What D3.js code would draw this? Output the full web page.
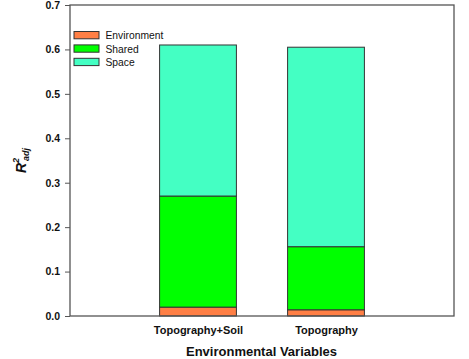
<!DOCTYPE html>
<html><head><meta charset="utf-8">
<script src="https://cdn.jsdelivr.net/npm/d3@7"></script>
<style>body{margin:0;background:#fff}svg{display:block}</style>
</head><body><svg id="c" width="469" height="359"></svg>
<script>
const categories = ["Topography+Soil", "Topography"];
const seriesNames = ["Environment", "Shared", "Space"];
const environment = [0.020, 0.014];
const shared = [0.250, 0.142];
const space = [0.340, 0.449];
const yTicks = [0.0, 0.1, 0.2, 0.3, 0.4, 0.5, 0.6, 0.7];
const colors = ["#ff7f45", "#00ff00", "#44ffc3"];

const svg = d3.select("#c");
const m = {l: 70, r: 454, t: 5, b: 316};
const x = d3.scaleLinear().domain([0, 3]).range([m.l, m.r]);
const y = d3.scaleLinear().domain([0, 0.7]).range([m.b, m.t]);

const rows = categories.map((c, i) => ({cat: c, i: i + 1, Environment: environment[i], Shared: shared[i], Space: space[i]}));
const stack = d3.stack().keys(seriesNames)(rows);
const bw = 0.6;

svg.append("g").selectAll("g").data(stack).join("g")
  .attr("fill", (d, k) => colors[k])
  .selectAll("rect").data(d => d).join("rect")
  .attr("x", d => x(d.data.i - bw / 2))
  .attr("width", x(bw) - x(0))
  .attr("y", d => y(d[1]))
  .attr("height", d => y(d[0]) - y(d[1]))
  .attr("stroke", "#333").attr("stroke-width", 1);

// frame
svg.append("rect").attr("x", m.l).attr("y", m.t).attr("width", m.r - m.l).attr("height", m.b - m.t)
  .attr("fill", "none").attr("stroke", "#555").attr("stroke-width", 1.3);

// y axis
const ya = svg.append("g").attr("transform", `translate(${m.l},0)`)
  .call(d3.axisLeft(y).tickValues(yTicks).tickFormat(d3.format(".1f")).tickSize(5).tickPadding(5));
ya.select(".domain").remove();
ya.selectAll("line").attr("stroke", "#555");
ya.selectAll("text").attr("font-family", "Liberation Sans, Arial, sans-serif").attr("font-size", 10.5).attr("font-weight", "bold").attr("fill", "#111");

// x labels
const xa = svg.append("g").attr("transform", `translate(0,${m.b})`)
  .call(d3.axisBottom(x).tickValues([1, 2]).tickFormat(d => categories[d - 1]).tickSize(0).tickPadding(10));
xa.select(".domain").remove();
xa.selectAll("text").attr("font-family", "Liberation Sans, Arial, sans-serif").attr("font-size", 11).attr("font-weight", "bold").attr("fill", "#111");

// x title
svg.append("text").attr("x", (m.l + m.r) / 2 - 0.5).attr("y", 356).attr("text-anchor", "middle")
  .attr("font-family", "Liberation Sans, Arial, sans-serif").attr("font-size", 13).attr("font-weight", "bold").attr("fill", "#111")
  .text("Environmental Variables");

// y title
const yt = svg.append("text").attr("transform", `translate(26,${(m.t + m.b) / 2}) rotate(-90)`).attr("text-anchor", "middle")
  .attr("font-family", "Liberation Sans, Arial, sans-serif").attr("font-size", 14).attr("font-weight", "bold").attr("font-style", "italic").attr("fill", "#111");
yt.append("tspan").text("R");
yt.append("tspan").attr("font-size", 9).attr("dy", -7).text("2");
yt.append("tspan").attr("font-size", 9).attr("dy", 10).attr("dx", -3).text("adj");

// legend
const lg = svg.append("g").attr("transform", "translate(74,31.5)");
seriesNames.forEach((s, k) => {
  const g = lg.append("g").attr("transform", `translate(0,${k * 13.4})`);
  g.append("rect").attr("width", 25).attr("height", 7.3).attr("fill", colors[k]).attr("stroke", "#333").attr("stroke-width", 1);
  g.append("text").attr("x", 31.5).attr("y", 7.8).attr("font-family", "Liberation Sans, Arial, sans-serif").attr("font-size", 10.3).attr("fill", "#111").text(s);
});
</script></body></html>
